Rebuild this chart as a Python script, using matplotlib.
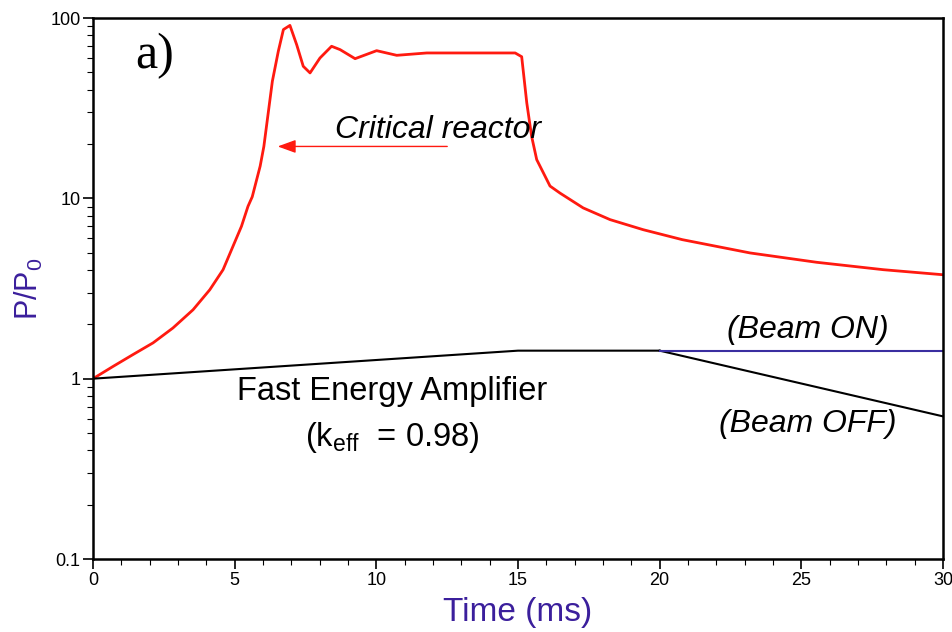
import matplotlib
matplotlib.use("Agg")
import matplotlib.pyplot as plt
from matplotlib.ticker import FixedLocator, MultipleLocator, LogLocator, NullFormatter

plt.rcParams['font.family'] = ['Liberation Sans', 'DejaVu Sans']
plt.rcParams['mathtext.fontset'] = 'custom'
plt.rcParams['mathtext.rm'] = 'Liberation Sans'

# critical reactor power transient
crit_t = [0, 0.71, 1.41, 2.12, 2.82, 3.53, 4.12, 4.59, 4.94, 5.24, 5.47, 5.62,
          5.9, 6.03, 6.33, 6.54, 6.72, 6.95, 7.19, 7.42, 7.66, 8.01, 8.42,
          8.72, 9.25, 10.01, 10.72, 11.78, 14.9, 15.13, 15.31, 15.48, 15.66,
          16.13, 16.48, 17.3, 18.25, 19.42, 20.8, 23.19, 25.54, 27.9, 30]
crit_p = [1, 1.17, 1.36, 1.58, 1.91, 2.41, 3.11, 4.02, 5.42, 7.0, 9.03, 10.2,
          15.1, 19.4, 44.6, 65.4, 86.3, 91, 71, 54, 49.6, 60, 69.7,
          66.8, 59.5, 65.9, 62.1, 64, 64, 61, 33.8, 22.1, 16.4,
          11.7, 10.7, 8.85, 7.62, 6.7, 5.9, 4.98, 4.42, 4.02, 3.77]

# fast energy amplifier
fea_t = [0, 15, 20]
fea_p = [1.0, 1.43, 1.43]
on_t = [20, 30]
on_p = [1.43, 1.43]
off_t = [20, 30]
off_p = [1.43, 0.618]

purple = "#3b1f9c"

fig = plt.figure(figsize=(9.53, 6.32), dpi=100)
ax = fig.add_axes([0.0976, 0.1155, 0.8919, 0.856])

ax.plot(crit_t, crit_p, color="#ff1a10", lw=2.0, solid_joinstyle="round")
ax.plot(fea_t, fea_p, color="black", lw=1.5)
ax.plot(off_t, off_p, color="black", lw=1.5)
ax.plot(on_t, on_p, color="#3a2ea0", lw=1.5)

ax.set_yscale("log")
ax.set_xlim(0, 30)
ax.set_ylim(0.1, 100)
ax.xaxis.set_major_locator(MultipleLocator(5))
ax.xaxis.set_minor_locator(MultipleLocator(1))
ax.yaxis.set_major_locator(FixedLocator([0.1, 1, 10, 100]))
ax.yaxis.set_minor_locator(LogLocator(base=10, subs=range(2, 10)))
ax.yaxis.set_minor_formatter(NullFormatter())
ax.set_yticklabels(["0.1", "1", "10", "100"])
ax.tick_params(which="major", direction="out", length=7, width=1.2,
               labelsize=13, colors="black", pad=2)
ax.tick_params(which="minor", direction="out", length=4, width=0.8)
for sp in ax.spines.values():
    sp.set_linewidth(1.8)

ax.set_xlabel("Time (ms)", fontsize=24, color=purple, labelpad=6)
ax.set_ylabel(r"P/P$_\mathregular{0}$", fontsize=22, color=purple, labelpad=4)

ax.text(2.19, 62, "a)", fontsize=36, family="Liberation Serif",
        ha="center", va="center")
ax.text(12.18, 24.0, "Critical reactor", fontsize=23, style="italic",
        ha="center", va="center")
ax.annotate("", xy=(6.42, 19.4), xytext=(12.6, 19.4),
            arrowprops=dict(arrowstyle="-|>,head_length=1.1,head_width=0.4",
                            color="#ff1a10", lw=1.0))
ax.text(10.55, 0.85, "Fast Energy Amplifier", fontsize=23.5,
        ha="center", va="center")
ax.text(10.55, 0.47, r"(k$_\mathregular{eff}$  = 0.98)", fontsize=23.5,
        ha="center", va="center")
ax.text(25.24, 1.87, "(Beam ON)", fontsize=23, style="italic",
        ha="center", va="center")
ax.text(25.24, 0.56, "(Beam OFF)", fontsize=23, style="italic",
        ha="center", va="center")

fig.savefig("out.png", dpi=100)
